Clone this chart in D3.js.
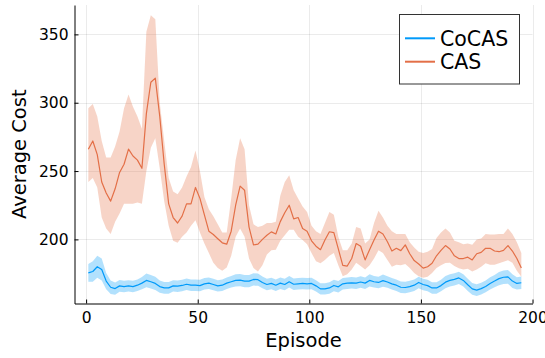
<!DOCTYPE html>
<html>
<head>
<meta charset="utf-8">
<script src="https://cdn.jsdelivr.net/npm/d3@7"></script>
<style>
  body { margin: 0; background: #fff; }
  svg text { font-family: "DejaVu Sans", sans-serif; fill: #000; }
</style>
</head>
<body>
<div id="chart"></div>
<script>
/* data, every second episode */
var episodes = [
  1,3,5,7,9,11,13,15,17,19,21,23,25,27,29,31,33,35,37,39,41,43,45,47,49,
  51,53,55,57,59,61,63,65,67,69,71,73,75,77,79,81,83,85,87,89,91,93,95,97,99,
  101,103,105,107,109,111,113,115,117,119,121,123,125,127,129,131,133,135,137,139,141,143,145,147,149,
  151,153,155,157,159,161,163,165,167,169,171,173,175,177,179,181,183,185,187,189,191,193,195
];

var cocasMean = [
  175.5,176.5,180,178,169.5,165,164,166,165.5,166,165.5,166.5,168,170,169,167.8,165.5,164.5,164.5,166,165.8,166.3,167.2,166.5,166.5,
  166.2,167.5,168,167,166,166.5,168,169,170,170.2,169.5,169.5,170.7,170.5,168.5,167,167.8,166.5,168,167,169,167.2,167.5,167.8,167.5,
  167.8,166,163.8,163.8,164.5,166.3,165.3,167.5,168,168.2,168,168.8,168,170,169,168.5,169.8,168.8,167.5,166.5,165,164.8,165.5,166.5,168.5,
  167,166.2,164.5,164.5,166.2,168.7,170,170.8,171.8,170,166.8,163.8,162.9,164,165.6,167.8,169.5,171.3,172.3,172.6,169.5,167.8,168.3
];
var cocasLow = [
  169,169,172,170,163.5,160,159.5,161.7,161.3,161.8,161.3,162.3,163.5,165,164,163,161,160.2,160.2,161.8,161.6,162.1,163,162.3,162.3,
  162,163.3,163.8,162.8,161.8,162.3,163.8,164.8,165.5,165.7,165,165,166.2,166,164.2,162.8,163.6,162.3,163.8,162.8,164.8,163,163.3,163.6,163.3,
  163.6,161.8,159.6,159.6,160.3,162.1,161.1,163.3,163.8,164,163.8,164.6,163.8,165.5,164.8,164.3,165.3,164.6,163.3,162.3,160.8,160.6,161.3,162.3,164.3,
  162.8,162,160.3,160.3,162,164.2,165.5,166.3,167.3,165.5,162.3,159.5,158.6,159.7,161.3,163.3,165,166.5,167.3,167.6,164.5,163.3,163.8
];
var cocasHigh = [
  182,184,188,186,175.5,170,168.5,170.3,169.7,170.2,169.7,170.7,172.5,175,174,172.6,170,168.8,168.8,170.2,170,170.5,171.4,170.7,170.7,
  170.4,171.7,172.2,171.2,170.2,170.7,172.2,173.2,174.5,174.7,174,174,175.2,175,172.8,171.2,172,170.7,172.2,171.2,173.2,171.4,171.7,172,171.7,
  172,170.2,168,168,168.7,170.5,169.5,171.7,172.2,172.4,172.2,173,172.2,174.5,173.2,172.7,174.3,173,171.7,170.7,169.2,169,169.7,170.7,172.7,
  171.2,170.4,168.7,168.7,170.4,173.2,174.5,175.3,176.3,174.5,171.3,168.1,167.2,168.3,169.9,172.3,174,176.1,177.3,177.6,174.5,172.3,172.8
];

var casMean = [
  266,272,262,242,234,228,237,249,255,266,261,258,252,292,315,318,290,255,226,216,212,217,226,226,238,
  230,218,206,203.6,200.5,197.5,196.5,206,225,239,236,209,196,196.5,200,203,205.5,204,213,219.5,225,215,216,208,206,
  199,195,192.5,199.5,205.6,205,193,181,180.5,186,197,195,185,192.5,199.5,206,204,198.3,191.5,193.5,191.8,196,189.5,184.5,182,
  179,180,182.5,188,192,195.5,193,188,186,186,187,185,189.5,190.5,193.5,193.5,191.5,191,192,195.5,191.5,186,179
];
var casLow = [
  242,245,238,216,208,204,213,219,226,226,226,227,226,250,267,274,252,228,210,199,197.5,202,205,210,214,
  205,197,190,183,179,177,179.5,188,202,208,202,186,179,176.5,181,189,192,192.5,199,203,207,207,202,199.5,196.5,
  190,184,182.5,185,188,190,181,173,174.5,178,183,180.5,178,181,186,192,190,185,180,181.5,181,182,179,175.5,173,
  172,172.6,175.5,179,181,182.8,183,180.5,178.8,178,178.5,176.5,178,180,182.5,181.5,181.5,182.5,183.6,184.8,183,177,172.6
];
var casHigh = [
  296,299,290,272,260,260,268,279,296,306,297,290,281,352,364,361,300,272,245,235,233,238,246,253,265,
  250,231,222,217,211,205,205,230,258,274,266,225,211,209,210,212,212,213,232,242,247,236,230,224,220,
  210,206,204,212,220,218,202,192,192,197,209,208,197,200,212,221,216,210,206,204,204,204,198,194,191,
  190,191,193,201,205,208,205,199,198,196.5,197,196,200,200.7,204,203.5,203.5,204,204,208,204,198,190
];

var seriesNames = ["CoCAS", "CAS"];
var xTicks = [0, 50, 100, 150, 200];
var yTicks = [200, 250, 300, 350];

/* size of the graphic */
var width = 545;
var height = 358;
var plotLeft = 74.5, plotRight = 532.5, plotTop = 5, plotBottom = 303.5;
var colors = ["#009afa", "#e36f47"];

var svg = d3.select("#chart")
  .append("svg")
    .attr("width", width)
    .attr("height", height);

var x = d3.scaleLinear().domain([-5.2, 200]).range([plotLeft, plotRight]);
var y = d3.scaleLinear().domain([153.1, 371.5]).range([plotBottom, plotTop]);

/* grid */
svg.append("g")
  .selectAll("line")
  .data(xTicks)
  .join("line")
    .attr("x1", d => Math.round(x(d)) + 0.5)
    .attr("x2", d => Math.round(x(d)) + 0.5)
    .attr("y1", plotTop)
    .attr("y2", plotBottom)
    .attr("stroke", "#000")
    .attr("stroke-opacity", 0.08);

svg.append("g")
  .selectAll("line")
  .data(yTicks)
  .join("line")
    .attr("x1", plotLeft)
    .attr("x2", plotRight)
    .attr("y1", d => Math.round(y(d)) + 0.5)
    .attr("y2", d => Math.round(y(d)) + 0.5)
    .attr("stroke", "#000")
    .attr("stroke-opacity", 0.08);

/* ribbons and lines */
var series = [
  { mean: cocasMean, low: cocasLow, high: cocasHigh },
  { mean: casMean, low: casLow, high: casHigh }
];

var area = d3.area()
  .x((d, i) => x(episodes[i]))
  .y0(d => y(d[0]))
  .y1(d => y(d[1]));

var line = d3.line()
  .x((d, i) => x(episodes[i]))
  .y(d => y(d));

series.forEach(function(s, k) {
  svg.append("path")
    .datum(s.low.map((v, i) => [v, s.high[i]]))
    .attr("d", area)
    .attr("fill", colors[k])
    .attr("fill-opacity", 0.3);
});

series.forEach(function(s, k) {
  svg.append("path")
    .datum(s.mean)
    .attr("d", line)
    .attr("fill", "none")
    .attr("stroke", colors[k])
    .attr("stroke-width", 1.2)
    .attr("stroke-linejoin", "round");
});

/* axes, ticks pointing inward */
var xAxis = svg.append("g")
  .attr("transform", "translate(0," + plotBottom + ")")
  .call(d3.axisBottom(x).tickValues(xTicks).tickSize(-4).tickSizeOuter(0).tickPadding(8));

var yAxis = svg.append("g")
  .attr("transform", "translate(" + plotLeft + ",0)")
  .call(d3.axisLeft(y).tickValues(yTicks).tickSize(-4).tickSizeOuter(0).tickPadding(6));

[xAxis, yAxis].forEach(function(a) {
  a.select(".domain").attr("stroke", "#000").attr("stroke-width", 1);
  a.selectAll(".tick line").attr("stroke", "#000");
  a.selectAll("text")
    .style("font-family", "'DejaVu Sans', sans-serif")
    .style("font-size", "15.5px")
    .attr("fill", "#000");
});

/* axis titles */
svg.append("text")
  .attr("x", (plotLeft + plotRight) / 2)
  .attr("y", 346.5)
  .attr("text-anchor", "middle")
  .style("font-size", "19.5px")
  .text("Episode");

svg.append("text")
  .attr("transform", "translate(26," + (plotTop + plotBottom) / 2 + ") rotate(-90)")
  .attr("text-anchor", "middle")
  .style("font-size", "19.5px")
  .text("Average Cost");

/* legend */
var legend = svg.append("g");
legend.append("rect")
  .attr("x", 399.5)
  .attr("y", 14.5)
  .attr("width", 120)
  .attr("height", 69.5)
  .attr("fill", "#fff")
  .attr("stroke", "#333")
  .attr("stroke-width", 1);

seriesNames.forEach(function(name, k) {
  var ly = 38.3 + k * 23.4;
  legend.append("line")
    .attr("x1", 405)
    .attr("x2", 435)
    .attr("y1", ly)
    .attr("y2", ly)
    .attr("stroke", colors[k])
    .attr("stroke-width", 2);
  legend.append("text")
    .attr("x", 440)
    .attr("y", ly + 7.4)
    .style("font-size", "20.5px")
    .text(name);
});
</script>
</body>
</html>
